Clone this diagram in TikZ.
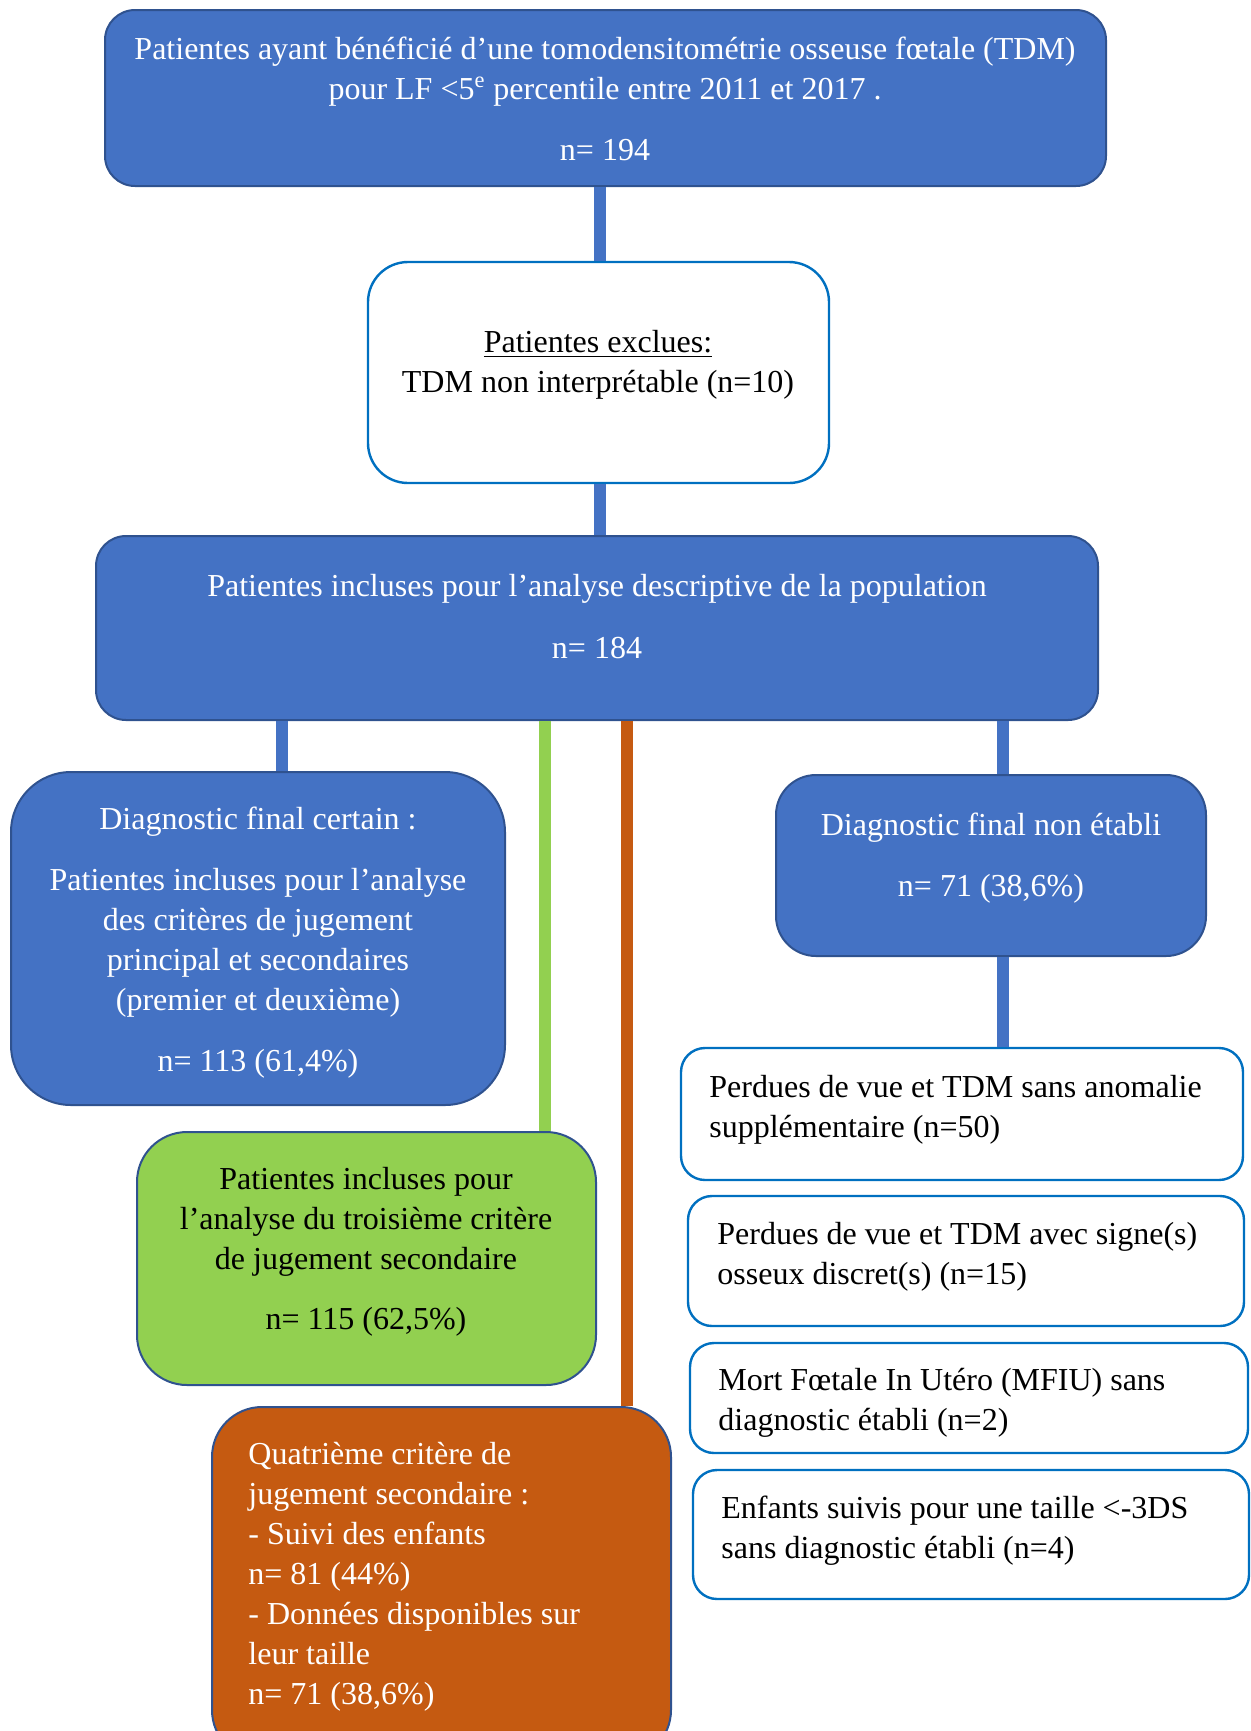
\documentclass[tikz,border=0pt]{standalone}
\usepackage{fontspec}
\setmainfont{Liberation Serif}
\usepackage{tikz}
\definecolor{boxblue}{HTML}{4472C4}
\definecolor{edgeblue}{HTML}{2F528F}
\definecolor{lineblue}{HTML}{0070C0}
\definecolor{boxgreen}{HTML}{92D050}
\definecolor{boxorange}{HTML}{C55A11}

\begin{document}
\begin{tikzpicture}[x=0.5pt,y=-0.5pt,
	every node/.style={font=\fontsize{16}{20}\selectfont},
	bluebox/.style={draw=edgeblue,fill=boxblue,line width=1pt,rounded corners=15pt,inner sep=0pt},
	whitebox/.style={draw=lineblue,fill=white,line width=1.2pt,rounded corners=12pt,inner sep=0pt},
	greenbox/.style={draw=edgeblue,fill=boxgreen,line width=1pt,rounded corners=25pt,inner sep=0pt},
	orangebox/.style={draw=edgeblue,fill=boxorange,line width=1pt,rounded corners=25pt,inner sep=0pt},
	wtext/.style={text=white,align=center,inner sep=0pt},
	btext/.style={text=black,align=center,inner sep=0pt},
	ltext/.style={text=black,align=left,anchor=west,inner sep=0pt},
	link/.style={line width=6pt,boxblue}]
	\useasboundingbox (0,0) rectangle (1250,1731);
	% boxes
	\node[bluebox,minimum width=500.5pt,minimum height=88pt] (top) at (605.5,98) {};
	\node[whitebox,rounded corners=20pt,minimum width=230.5pt,minimum height=110.5pt] (excl) at (598.5,372.5) {};
	\node[bluebox,minimum width=501pt,minimum height=92pt] (pop) at (597,628) {};
	\node[bluebox,rounded corners=30pt,minimum width=247pt,minimum height=166.5pt] (certain) at (258,938.5) {};
	\node[bluebox,rounded corners=20pt,minimum width=215pt,minimum height=90.5pt] (nonet) at (991,865.5) {};
	\node[whitebox,minimum width=281pt,minimum height=66pt] (lost1) at (962,1114) {};
	\node[whitebox,minimum width=278pt,minimum height=65pt] (lost2) at (966,1261) {};
	\node[whitebox,minimum width=279pt,minimum height=55pt] (mfiu) at (969,1398) {};
	\node[whitebox,minimum width=278pt,minimum height=64.5pt] (short) at (971,1534.5) {};
	\node[greenbox,minimum width=229.5pt,minimum height=126.5pt] (third) at (366.5,1258.5) {};
	\node[orangebox,minimum width=229.5pt,minimum height=176.5pt] (fourth) at (441.5,1583.5) {};
	% texts
	\node[wtext] (top-t) at (605,99) {Patientes ayant bénéficié d’une tomodensitométrie osseuse fœtale (TDM)\\pour LF <5\textsuperscript{e} percentile entre 2011 et 2017 .\\[10.5pt]n= 194};
	\node[btext] (excl-t) at (598,365) {\underline{Patientes exclues:}\\TDM non interprétable (n=10)};
	\node[wtext] (pop-t) at (597,617) {Patientes incluses pour l’analyse descriptive de la population\\[11pt]n= 184};
	\node[wtext] (certain-t) at (258,943) {Diagnostic final certain :\\[10.5pt]Patientes incluses pour l’analyse\\des critères de jugement\\principal et secondaires\\(premier et deuxième)\\[10.5pt]n= 113 (61,4\%)};
	\node[wtext] (nonet-t) at (991,858.5) {Diagnostic final non établi\\[10.5pt]n= 71 (38,6\%)};
	\node[btext] (third-t) at (366,1251.5) {Patientes incluses pour\\l’analyse du troisième critère\\de jugement secondaire\\[10pt]n= 115 (62,5\%)};
	\node[ltext,text=white] (fourth-t) at (248,1577) {Quatrième critère de\\jugement secondaire :\\- Suivi des enfants\\n= 81 (44\%)\\- Données disponibles sur\\leur taille\\n= 71 (38,6\%)};
	\node[ltext] (lost1-t) at (709,1109.5) {Perdues de vue et TDM sans anomalie\\supplémentaire (n=50)};
	\node[ltext] (lost2-t) at (717,1256.5) {Perdues de vue et TDM avec signe(s)\\osseux discret(s) (n=15)};
	\node[ltext] (mfiu-t) at (718,1402.5) {Mort Fœtale In Utéro (MFIU) sans\\diagnostic établi (n=2)};
	\node[ltext] (short-t) at (721,1530.5) {Enfants suivis pour une taille <-3DS\\sans diagnostic établi (n=4)};
	% links
	\coordinate (mx) at (600,0);
	\coordinate (lx) at (281.5,0);
	\coordinate (gx) at (545,0);
	\coordinate (ox) at (627,0);
	\coordinate (rx) at (1003,0);
	\draw[link] (mx |- top.south) -- (mx |- excl.north);
	\draw[link] (mx |- excl.south) -- (mx |- pop.north);
	\draw[link] (lx |- pop.south) -- (lx |- certain.north);
	\draw[link,boxgreen] (gx |- pop.south) -- (gx |- third.north);
	\draw[link,boxorange] (ox |- pop.south) -- (ox |- fourth.north);
	\draw[link] (rx |- pop.south) -- (rx |- nonet.north);
	\draw[link] (rx |- nonet.south) -- (rx |- lost1.north);
\end{tikzpicture}
\end{document}
